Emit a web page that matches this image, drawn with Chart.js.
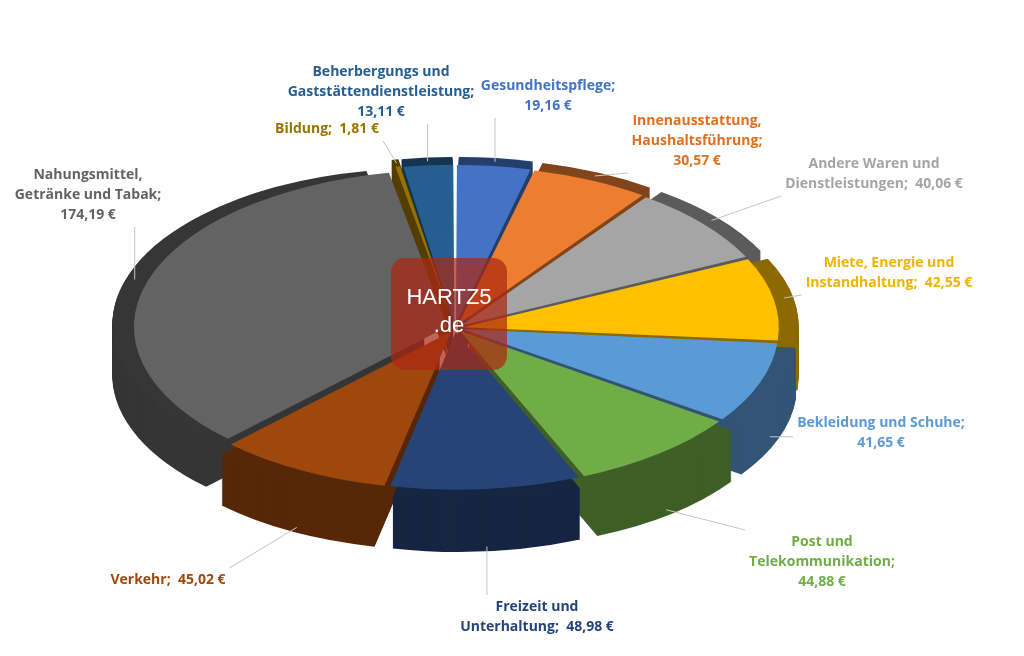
<!DOCTYPE html>
<html><head><meta charset="utf-8">
<script src="https://cdn.jsdelivr.net/npm/chart.js@4.4.0/dist/chart.umd.min.js"></script>
<style>html,body{margin:0;background:#fff}#wrap{width:1024px;height:656px}</style>
</head><body><div id="wrap"><canvas id="chart"></canvas></div>
<script>
const labels = [
  ['Gesundheitspflege;','19,16 €'],
  ['Innenausstattung,','Haushaltsführung;','30,57 €'],
  ['Andere Waren und','Dienstleistungen;  40,06 €'],
  ['Miete, Energie und','Instandhaltung;  42,55 €'],
  ['Bekleidung und Schuhe;','41,65 €'],
  ['Post und','Telekommunikation;','44,88 €'],
  ['Freizeit und','Unterhaltung;  48,98 €'],
  ['Verkehr;  45,02 €'],
  ['Nahungsmittel,','Getränke und Tabak;','174,19 €'],
  ['Bildung;  1,81 €'],
  ['Beherbergungs und','Gaststättendienstleistung;','13,11 €']
];
const values = [19.16, 30.57, 40.06, 42.55, 41.65, 44.88, 48.98, 45.02, 174.19, 1.81, 13.11];
const colors = ['#4472C4','#ED7D31','#A5A5A5','#FFC000','#5B9BD5','#70AD47','#264478','#9E480E','#636363','#997300','#255E91'];
const labelColors = ['#4472C4','#E07020','#A5A5A5','#F0B400','#5B9BD5','#70AD47','#264478','#9E480E','#636363','#997300','#255E91'];
// label block centres (layout only)
const labelPos = [[548,96],[697,141],[874,174],[889,273],[881,433],[822,562],[537,617],[168,580],[88,195],[327,129],[381,92]];

const SQUASH = 0.5, DEPTH = 104;

function darken(hex, f) {
  const n = parseInt(hex.slice(1), 16);
  const r = Math.round((n >> 16 & 255) * f), g = Math.round((n >> 8 & 255) * f), b = Math.round((n & 255) * f);
  return `rgb(${r},${g},${b})`;
}
function arcCenter(a) {
  const mid = (a.startAngle + a.endAngle) / 2, off = a.options.offset || 0;
  return [a.x + Math.cos(mid) * off, a.y + Math.sin(mid) * off, mid];
}

const pie3d = {
  id: 'pie3d',
  beforeDatasetsDraw(chart) {
    const ctx = chart.ctx, arcs = chart.getDatasetMeta(0).data;
    const cy = arcs[0].y;
    ctx.save();
    ctx.translate(0, cy); ctx.scale(1, SQUASH); ctx.translate(0, -cy);
    for (let d = DEPTH; d > 0; d -= 2) {
      arcs.forEach((a, i) => {
        const [x, y] = arcCenter(a);
        ctx.beginPath();
        ctx.moveTo(x, y + d);
        ctx.arc(x, y + d, a.outerRadius, a.startAngle, a.endAngle);
        ctx.closePath();
        ctx.fillStyle = darken(colors[i], 0.55);
        ctx.fill();
      });
    }
  },
  afterDatasetsDraw(chart) {
    const ctx = chart.ctx;
    ctx.restore();
    const arcs = chart.getDatasetMeta(0).data;
    const cy = arcs[0].y;
    ctx.save();
    ctx.font = 'bold 14px "Open Sans"';
    const lh = 20;
    arcs.forEach((a, i) => {
      const [x, y, mid] = arcCenter(a);
      const c = Math.cos(mid), s = Math.sin(mid);
      const ex = x + c * a.outerRadius * 0.97;
      const ey = cy + (y + s * a.outerRadius * 0.97 - cy) * SQUASH + (s > 0 ? DEPTH * SQUASH : 0);
      const lines = labels[i];
      const [bx, by] = labelPos[i];
      const w = Math.max(...lines.map(t => ctx.measureText(t).width)) / 2 + 4;
      const h = lines.length * lh / 2 + 2;
      const px = Math.min(bx + w, Math.max(bx - w, ex));
      const py = Math.min(by + h, Math.max(by - h, ey));
      ctx.strokeStyle = '#c4c4c4'; ctx.lineWidth = 1;
      ctx.beginPath(); ctx.moveTo(ex, ey); ctx.lineTo(px, py); ctx.stroke();
      ctx.fillStyle = labelColors[i];
      ctx.textAlign = 'center'; ctx.textBaseline = 'middle';
      lines.forEach((t, j) => ctx.fillText(t, bx, by - (lines.length - 1) * lh / 2 + j * lh));
    });
    // watermark
    const cx = arcs[0].x, wy = cy - 12;
    ctx.fillStyle = 'rgba(170,40,20,0.72)';
    ctx.beginPath(); ctx.roundRect(cx - 64, wy - 58, 116, 112, 14); ctx.fill();
    ctx.fillStyle = '#fff'; ctx.font = '22px "Liberation Sans"'; ctx.textAlign = 'center'; ctx.textBaseline = 'middle';
    ctx.fillText('HARTZ5', cx - 6, wy - 18);
    ctx.fillText('.de', cx - 6, wy + 10);
    ctx.restore();
  }
};

new Chart(document.getElementById('chart'), {
  type: 'pie',
  data: { labels: labels.map(l => l.join(' ')), datasets: [{ data: values, backgroundColor: colors, borderWidth: 0, offset: 32 }] },
  options: {
    responsive: true, maintainAspectRatio: false, animation: false,
    layout: { padding: { left: 105, right: 219, top: 0, bottom: 0 } },
    plugins: { legend: { display: false }, tooltip: { enabled: false } }
  },
  plugins: [pie3d]
});
</script></body></html>
